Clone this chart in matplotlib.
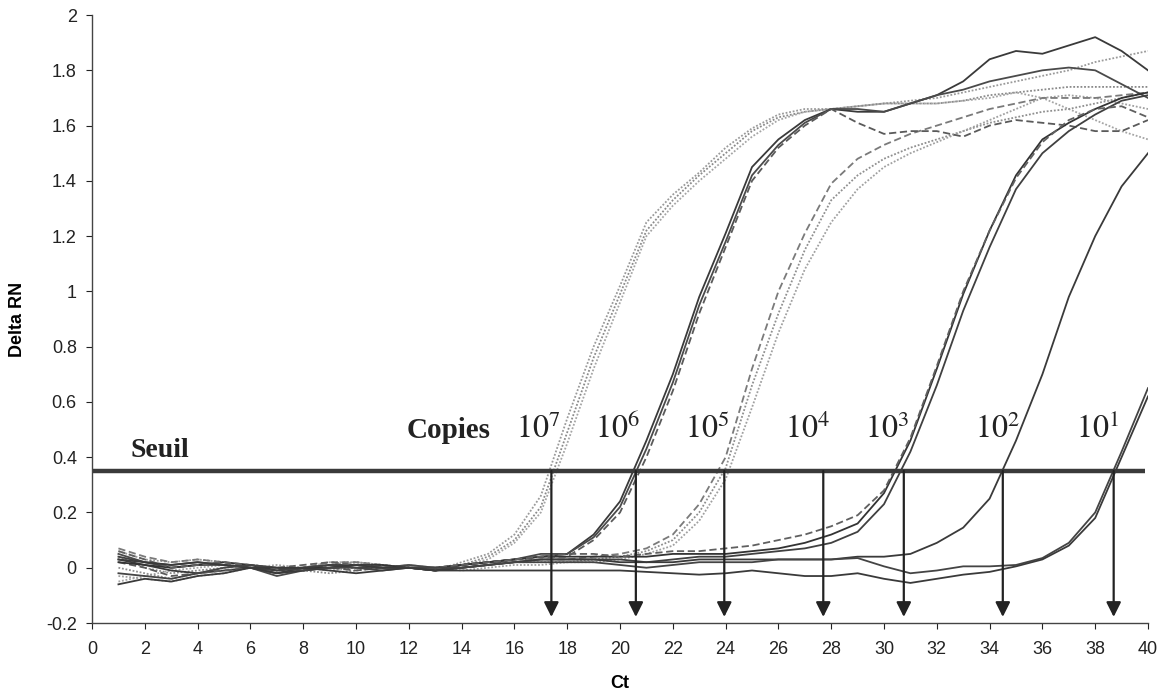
import numpy as np
import matplotlib
matplotlib.use("Agg")
import matplotlib.pyplot as plt

plt.rcParams['font.family'] = ['Liberation Sans', 'DejaVu Sans']
plt.rcParams['mathtext.fontset'] = 'stix'

# ---------------------------------------------------------------------
# datos (Delta RN por ciclo 1..40)
# ---------------------------------------------------------------------
ciclos = list(range(1, 41))

c7a = [0.06, 0.03, 0.02, 0.03, 0.02, 0.00, -0.02, -0.01, 0.01, 0.02, 0.01, 0.00, -0.01, 0.02, 0.05, 0.12, 0.26, 0.54, 0.80, 1.02,
       1.25, 1.35, 1.43, 1.52, 1.59, 1.64, 1.66, 1.66, 1.67, 1.68, 1.69, 1.70, 1.72, 1.74, 1.76, 1.78, 1.80, 1.83, 1.85, 1.87]
c7b = [0.04, 0.00, -0.02, -0.01, 0.00, 0.01, 0.00, -0.01, -0.02, -0.01, 0.00, 0.01, 0.00, 0.01, 0.04, 0.10, 0.22, 0.49, 0.76, 0.99,
       1.22, 1.33, 1.42, 1.50, 1.58, 1.63, 1.65, 1.66, 1.67, 1.68, 1.68, 1.68, 1.69, 1.71, 1.72, 1.73, 1.74, 1.74, 1.74, 1.74]
c7c = [-0.05, -0.03, -0.01, 0.00, 0.01, 0.01, -0.01, 0.00, 0.02, 0.02, 0.01, 0.00, -0.01, 0.01, 0.03, 0.09, 0.20, 0.45, 0.72, 0.96,
       1.20, 1.31, 1.40, 1.48, 1.56, 1.62, 1.65, 1.66, 1.67, 1.68, 1.68, 1.68, 1.69, 1.70, 1.72, 1.70, 1.66, 1.62, 1.58, 1.55]

c6a = [0.03, 0.01, -0.01, -0.02, -0.01, 0.00, -0.02, 0.00, 0.01, 0.01, 0.00, 0.00, -0.01, 0.01, 0.02, 0.03, 0.04, 0.05, 0.12, 0.24,
       0.46, 0.70, 0.98, 1.21, 1.45, 1.55, 1.62, 1.66, 1.65, 1.65, 1.68, 1.71, 1.76, 1.84, 1.87, 1.86, 1.89, 1.92, 1.87, 1.80]
c6b = [0.05, 0.02, 0.00, 0.01, 0.01, 0.00, -0.03, -0.01, 0.00, 0.01, 0.00, 0.01, 0.00, 0.01, 0.02, 0.03, 0.05, 0.05, 0.11, 0.22,
       0.43, 0.67, 0.95, 1.18, 1.42, 1.53, 1.61, 1.66, 1.66, 1.65, 1.68, 1.71, 1.73, 1.76, 1.78, 1.80, 1.81, 1.80, 1.75, 1.70]
c6c = [0.02, 0.00, -0.03, -0.02, -0.01, 0.00, -0.01, 0.00, 0.00, -0.01, 0.00, 0.00, -0.01, 0.00, 0.01, 0.03, 0.04, 0.04, 0.10, 0.20,
       0.40, 0.64, 0.92, 1.16, 1.40, 1.52, 1.60, 1.66, 1.61, 1.57, 1.58, 1.58, 1.56, 1.60, 1.62, 1.61, 1.60, 1.58, 1.58, 1.62]

c5a = [0.00, -0.02, -0.04, -0.02, 0.00, 0.01, 0.00, -0.01, 0.01, 0.02, 0.01, 0.00, 0.00, 0.00, 0.01, 0.02, 0.02, 0.02, 0.03, 0.04,
       0.06, 0.10, 0.20, 0.36, 0.66, 0.92, 1.15, 1.33, 1.42, 1.48, 1.52, 1.55, 1.58, 1.61, 1.63, 1.65, 1.66, 1.68, 1.70, 1.72]
c5b = [-0.03, -0.04, -0.05, -0.03, -0.02, 0.00, 0.01, 0.00, -0.01, 0.00, 0.00, 0.01, 0.00, -0.01, 0.00, 0.01, 0.01, 0.02, 0.02, 0.03,
       0.05, 0.08, 0.17, 0.32, 0.58, 0.85, 1.08, 1.25, 1.37, 1.45, 1.50, 1.54, 1.58, 1.62, 1.66, 1.70, 1.71, 1.70, 1.68, 1.66]
c5c = [0.07, 0.04, 0.02, 0.03, 0.02, 0.00, -0.02, 0.00, 0.02, 0.02, 0.01, 0.00, 0.00, 0.01, 0.02, 0.03, 0.03, 0.03, 0.04, 0.05,
       0.07, 0.12, 0.23, 0.40, 0.72, 1.00, 1.21, 1.39, 1.48, 1.53, 1.57, 1.60, 1.63, 1.66, 1.68, 1.70, 1.70, 1.70, 1.71, 1.72]

c3a = [0.02, 0.01, 0.00, 0.01, 0.02, 0.01, -0.01, 0.00, 0.00, 0.01, 0.01, 0.00, 0.00, 0.01, 0.02, 0.03, 0.04, 0.04, 0.04, 0.04,
       0.04, 0.05, 0.05, 0.05, 0.06, 0.07, 0.09, 0.12, 0.16, 0.27, 0.46, 0.72, 0.99, 1.22, 1.42, 1.55, 1.61, 1.66, 1.70, 1.72]
c3b = [0.04, 0.02, 0.01, 0.02, 0.01, 0.00, -0.01, 0.00, 0.01, 0.00, 0.00, 0.00, -0.01, 0.00, 0.01, 0.02, 0.03, 0.03, 0.03, 0.03,
       0.02, 0.03, 0.04, 0.04, 0.05, 0.06, 0.07, 0.09, 0.13, 0.23, 0.42, 0.66, 0.93, 1.16, 1.37, 1.50, 1.58, 1.64, 1.69, 1.71]
c3c = [0.06, 0.03, 0.00, 0.01, 0.02, 0.01, 0.00, 0.01, 0.02, 0.01, 0.00, 0.00, 0.00, 0.01, 0.02, 0.03, 0.04, 0.05, 0.05, 0.04,
       0.05, 0.06, 0.06, 0.07, 0.08, 0.10, 0.12, 0.15, 0.19, 0.28, 0.47, 0.73, 1.00, 1.22, 1.41, 1.54, 1.62, 1.66, 1.67, 1.63]

c2 = [0.03, 0.02, 0.01, 0.02, 0.01, 0.00, -0.02, -0.01, 0.00, 0.01, 0.00, 0.00, -0.01, 0.00, 0.01, 0.02, 0.03, 0.03, 0.03, 0.02,
      0.02, 0.02, 0.03, 0.03, 0.03, 0.03, 0.03, 0.03, 0.04, 0.04, 0.05, 0.09, 0.145, 0.25, 0.46, 0.70, 0.98, 1.20, 1.38, 1.50]

c1a = [-0.02, -0.03, -0.04, -0.02, 0.00, 0.01, 0.00, -0.01, 0.00, 0.00, -0.01, 0.00, 0.00, 0.00, 0.01, 0.02, 0.02, 0.02, 0.02, 0.01,
       0.00, 0.01, 0.02, 0.02, 0.02, 0.03, 0.03, 0.03, 0.035, 0.005, -0.02, -0.01, 0.005, 0.005, 0.01, 0.035, 0.09, 0.20, 0.42, 0.65]
c1b = [-0.06, -0.04, -0.05, -0.03, -0.02, 0.00, 0.00, 0.00, -0.01, -0.02, -0.01, 0.00, -0.01, -0.01, -0.01, -0.01, -0.01, -0.01, -0.01, -0.01,
       -0.015, -0.02, -0.025, -0.02, -0.01, -0.02, -0.03, -0.03, -0.02, -0.04, -0.055, -0.04, -0.025, -0.015, 0.005, 0.03, 0.08, 0.18, 0.40, 0.62]

seuil = 0.35
ct_valores = [17.4, 20.6, 23.95, 27.7, 30.75, 34.5, 38.7]
etiquetas = ['$10^7$', '$10^6$', '$10^5$', '$10^4$', '$10^3$', '$10^2$', '$10^1$']
etiq_x = [16.9, 19.9, 23.3, 27.1, 30.1, 34.3, 38.1]

punteado = (0, (1, 1))
guiones = (0, (4, 2))

# (serie, color, estilo)
curvas = [
    (c7a, '#9a9a9a', punteado), (c7b, '#8a8a8a', punteado), (c7c, '#a5a5a5', punteado),
    (c5a, '#8f8f8f', punteado), (c5b, '#a0a0a0', punteado), (c5c, '#7a7a7a', guiones),
    (c6a, '#3a3a3a', '-'), (c6b, '#4a4a4a', '-'), (c6c, '#5a5a5a', guiones),
    (c3a, '#333333', '-'), (c3b, '#404040', '-'), (c3c, '#606060', guiones),
    (c2, '#3a3a3a', '-'),
    (c1a, '#444444', '-'), (c1b, '#3a3a3a', '-'),
]

fig = plt.figure(figsize=(11.65, 6.94), dpi=100)
ax = fig.add_axes([0.079, 0.1023, 0.9064, 0.876])

for serie, color, estilo in curvas:
    ax.plot(ciclos, serie, color=color, linestyle=estilo, linewidth=1.3)

# linea del umbral
ax.plot([0, 39.9], [seuil, seuil], color='#3a3a3a', linewidth=3.2, solid_capstyle='butt')

# flechas de Ct
for ct in ct_valores:
    ax.annotate('', xy=(ct, -0.178), xytext=(ct, seuil),
                arrowprops=dict(arrowstyle='-|>', color='#222222', lw=1.6,
                                mutation_scale=22, shrinkA=0, shrinkB=0))

for x, txt in zip(etiq_x, etiquetas):
    ax.text(x, 0.47, txt, fontsize=23, ha='center', va='baseline', color='#222222')
ax.text(13.5, 0.47, 'Copies', fontsize=21, fontweight='bold', family='Liberation Serif',
        ha='center', va='baseline', color='#222222')
ax.text(1.45, 0.40, 'Seuil', fontsize=20, fontweight='bold', family='Liberation Serif',
        ha='left', va='baseline', color='#222222')

ax.set_xlim(0, 40)
ax.set_ylim(-0.2, 2)
ax.set_xticks(range(0, 41, 2))
ax.set_yticks([-0.2, 0, 0.2, 0.4, 0.6, 0.8, 1, 1.2, 1.4, 1.6, 1.8, 2])
ax.set_yticklabels(['-0.2', '0', '0.2', '0.4', '0.6', '0.8', '1', '1.2', '1.4', '1.6', '1.8', '2'])
ax.tick_params(labelsize=13, colors='#222222', length=4, direction='out')
ax.tick_params(axis='x', pad=9)
ax.tick_params(axis='y', pad=7)

for lado in ['top', 'right']:
    ax.spines[lado].set_visible(False)
for lado in ['left', 'bottom']:
    ax.spines[lado].set_color('#444444')
    ax.spines[lado].set_linewidth(1.0)

ax.set_xlabel('Ct', fontsize=13, fontweight='bold', labelpad=12)
ax.set_ylabel('Delta RN', fontsize=13, fontweight='bold', labelpad=14)

fig.savefig('out.png', dpi=100)
